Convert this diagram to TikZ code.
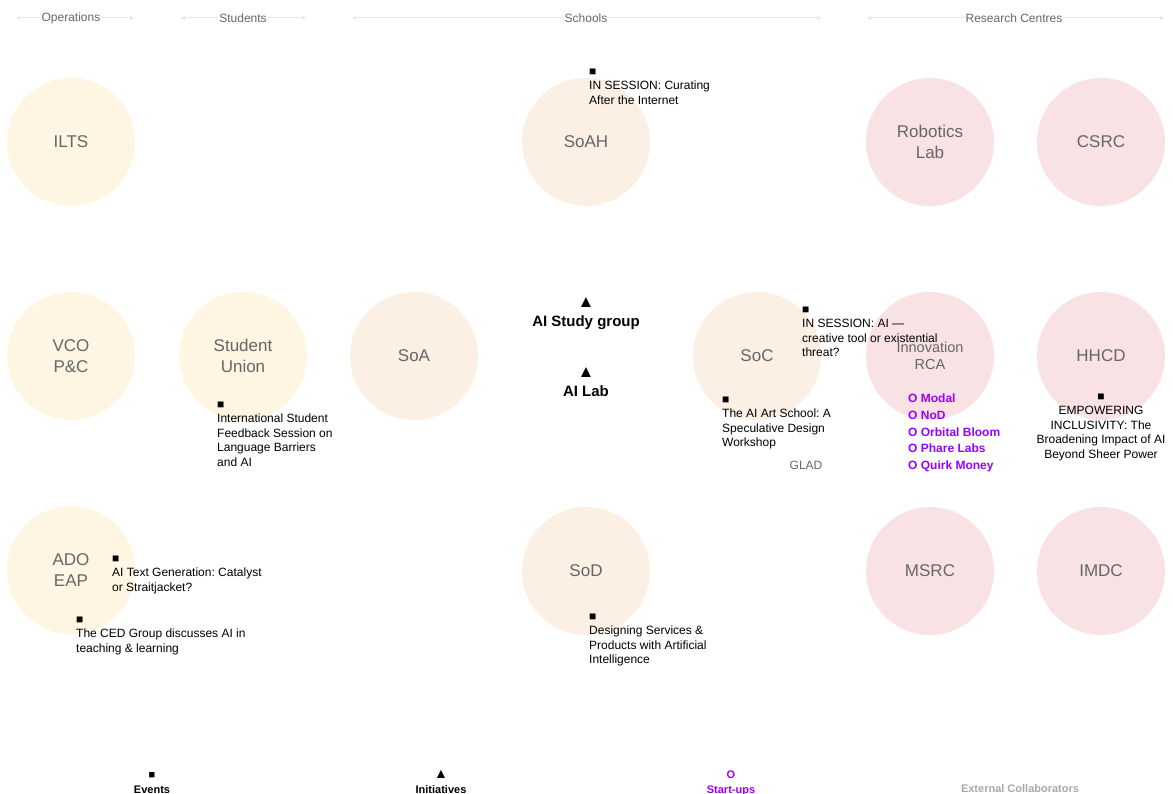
\documentclass[tikz,border=0pt]{standalone}
\usepackage{fontspec}
\setmainfont{Liberation Sans}
\usetikzlibrary{arrows.meta}
\definecolor{opsfill}{HTML}{FEF5E2}
\definecolor{schfill}{HTML}{FCEFE3}
\definecolor{resfill}{HTML}{F9E2E4}
\definecolor{labgray}{HTML}{666666}
\definecolor{hdrline}{HTML}{E6E6E6}
\definecolor{startup}{HTML}{9900FF}
\definecolor{extgray}{HTML}{A8A8A8}
\newcommand\firstln{\rule{0pt}{10pt}}
\frenchspacing
\begin{document}
\begin{tikzpicture}[x=1pt,y=-1pt,
  circ/.style={circle, minimum size=128pt, inner sep=0pt, align=center, text=labgray, font=\fontsize{17}{21}\selectfont},
  opsc/.style={fill=opsfill},
  schc/.style={fill=schfill},
  resc/.style={fill=resfill},
  hdr/.style={draw=hdrline, line width=1pt, {Latex[length=5pt,width=4pt]}-{Latex[length=5pt,width=4pt]}},
  hdrtxt/.style={fill=white, inner xsep=1pt, inner ysep=1pt, text=labgray, font=\fontsize{12}{14}\selectfont},
  evt/.style={inner sep=0pt, anchor=north west, align=left, font=\fontsize{12}{14.5}\selectfont},
  evtc/.style={inner sep=0pt, anchor=north, align=center, font=\fontsize{12}{14.5}\selectfont},
  init/.style={inner sep=0pt, anchor=north, align=center, font=\bfseries\fontsize{15}{19}\selectfont},
  startups/.style={inner sep=0pt, anchor=north west, align=left, text=startup, font=\bfseries\fontsize{12}{16.7}\selectfont},
  legend/.style={inner sep=0pt, anchor=north, align=center, font=\bfseries\fontsize{11}{15}\selectfont}
]
\useasboundingbox (0,0) rectangle (1173,794);

% headers
\coordinate (opsL) at (15,18); \coordinate (opsR) at (135,18);
\coordinate (stuL) at (180,18); \coordinate (stuR) at (307,18);
\coordinate (schL) at (351,18); \coordinate (schR) at (822,18);
\coordinate (resL) at (866,18); \coordinate (resR) at (1165,18);
\draw[hdr] (opsL) -- (opsR);
\draw[hdr] (stuL) -- (stuR);
\draw[hdr] (schL) -- (schR);
\draw[hdr] (resL) -- (resR);
\node[hdrtxt] (opsH) at (71,18.5) {Operations};
\node[hdrtxt] (stuH) at (243,18) {Students};
\node[hdrtxt] (schH) at (586,18) {Schools};
\node[hdrtxt] (resH) at (1014,18.5) {Research Centres};

% circles
\node[circ,opsc] (ilts) at (71,142) {ILTS};
\node[circ,opsc] (vco) at (71,356) {VCO\\P\&C};
\node[circ,opsc] (ado) at (71,570) {ADO\\EAP};
\node[circ,opsc] (su) at (243,356) {Student\\Union};
\node[circ,schc] (soa) at (414,356) {SoA};
\node[circ,schc] (soah) at (586,142) {SoAH};
\node[circ,schc] (soc) at (757,356) {SoC};
\node[circ,schc] (sod) at (586,571) {SoD};
\node[circ,resc] (robo) at (930,142) {Robotics\\Lab};
\node[circ,resc] (csrc) at (1101,142) {CSRC};
\node[circ,resc,font=\fontsize{14.5}{17}\selectfont] (inno) at (930,356) {Innovation\\RCA};
\node[circ,resc] (hhcd) at (1101,356) {HHCD};
\node[circ,resc] (msrc) at (930,571) {MSRC};
\node[circ,resc] (imdc) at (1101,571) {IMDC};

% events
\node[evt] (evSoAH) at (589,65) {\firstln■\\IN SESSION: Curating\\After the Internet};
\node[evt] (evSoC1) at (802,303) {\firstln■\\IN SESSION: AI —\\creative tool or existential\\threat?};
\node[evt] (evSU) at (217,398) {\firstln■\\International Student\\Feedback Session on\\Language Barriers\\and AI};
\node[evt] (evSoC2) at (722,393) {\firstln■\\The AI Art School: A\\Speculative Design\\Workshop};
\node[evtc] (evHHCD) at (1101,390) {\firstln■\\EMPOWERING\\INCLUSIVITY: The\\Broadening Impact of AI\\Beyond Sheer Power};
\node[evt] (evADO1) at (112,552) {\firstln■\\AI Text Generation: Catalyst\\or Straitjacket?};
\node[evt] (evADO2) at (76,613) {\firstln■\\The CED Group discusses AI in\\teaching \& learning};
\node[evt] (evSoD) at (589,610) {\firstln■\\Designing Services \&\\Products with Artificial\\Intelligence};

% initiatives
\node[init] (aiStudy) at (586,295) {\rule{0pt}{12pt}{\fontsize{17}{17}\selectfont ▲}\\AI Study group};
\node[init] (aiLab) at (586,365) {\rule{0pt}{12pt}{\fontsize{17}{17}\selectfont ▲}\\AI Lab};

% start-ups
\node[startups] (startList) at (908,392.5) {\firstln O Modal\\O NoD\\O Orbital Bloom\\O Phare Labs\\O Quirk Money};

% external collaborator
\node[font=\fontsize{12}{14}\selectfont, text=labgray, inner sep=0pt] (glad) at (806,465) {GLAD};

% legend
\node[legend] (lgEvents) at (152,768) {\firstln{\fontsize{11}{11}\selectfont ■}\\Events};
\node[legend] (lgInit) at (441,768) {\firstln{\fontsize{14}{14}\selectfont ▲}\\Initiatives};
\node[legend, text=startup] (lgStart) at (731,768) {\firstln O\\Start-ups};
\node[legend, text=extgray, anchor=center] (lgExt) at (1020,789) {External Collaborators};
\end{tikzpicture}
\end{document}
